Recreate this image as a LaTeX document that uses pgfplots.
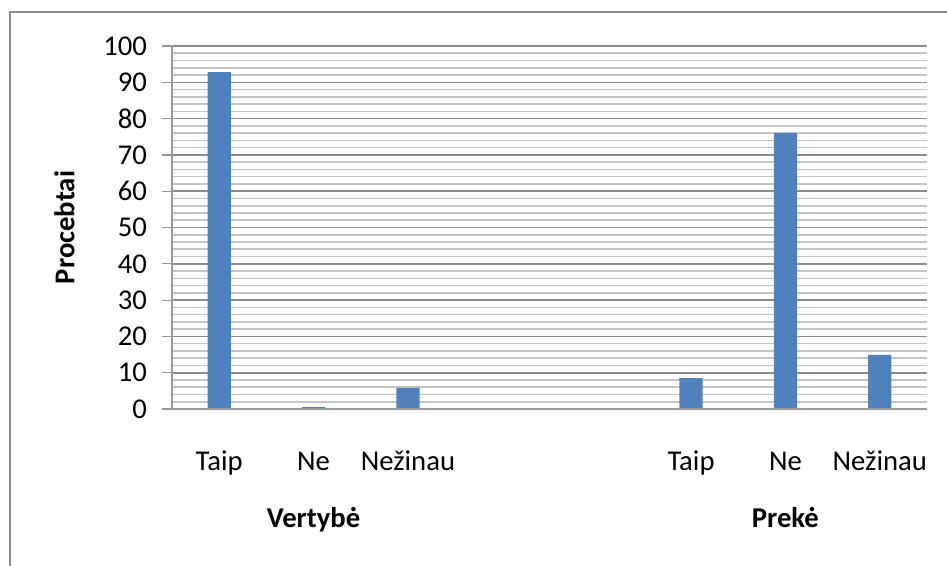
\documentclass[border=0pt]{standalone}
\usepackage{pgfplots}
\pgfplotsset{compat=1.18}
\usepackage{fontspec}
\setmainfont{Carlito}
\definecolor{barblue}{HTML}{4F81BD}
\definecolor{majgrid}{HTML}{8C8C8C}
\definecolor{mingrid}{HTML}{C4C4C4}
\begin{document}
\fontsize{21.5}{25}\selectfont
\begin{tikzpicture}[x=0.75pt,y=0.75pt]
\path[use as bounding box] (0,0) rectangle (947,565);
\draw[color=gray!90, line width=1.5pt] (10,-10) -- (10,553) -- (960,553);
\begin{axis}[
  at={(129pt,117pt)}, anchor=south west,
  scale only axis, width=566.25pt, height=272.25pt,
  xmin=-0.5, xmax=7.5, ymin=0, ymax=100,
  ytick={0,10,...,100}, minor y tick num=4,
  xtick={0,1,2,5,6,7},
  xticklabels={Taip,Ne,Nežinau,Taip,Ne,Nežinau},
  xticklabel style={yshift=-17pt, font=\fontsize{21.5}{25}\selectfont, anchor=north, text height=14pt, text depth=5pt},
  yticklabel style={font=\fontsize{21.5}{25}\selectfont, xshift=-4pt},
  /pgf/number format/assume math mode=true,
  axis x line*=bottom, axis y line*=left,
  axis line style={draw=gray!80, line width=0.9pt, -},
  x axis line style={draw=none},
  ymajorgrids, yminorgrids,
  major grid style={draw=majgrid, line width=1.2pt},
  minor grid style={draw=mingrid, line width=1.2pt},
  major tick length=7.5pt, minor tick length=0pt,
  y tick style={draw=gray!80, line width=0.9pt},
  x tick style={draw=none},
  tick align=outside,
  ylabel={\bfseries Procebtai},
  ylabel style={font=\fontsize{21.5}{25}\selectfont, yshift=7pt},
  clip=false,
]
\addplot[ybar, bar width=17.5pt, fill=barblue, draw=none] coordinates {
 (0,92.8) (1,0.5) (2,5.8) (5,8.5) (6,76) (7,14.9)
};
\draw[color=gray!80, line width=0.9pt] (axis cs:-0.5,0) -- (axis cs:7.5,0);
\draw[color=gray!80, line width=0.9pt] (axis cs:-0.5,0) -- ++(-7.5pt,0);
\node[font=\fontsize{21.5}{25}\selectfont\bfseries, anchor=base] at ([yshift=-89pt]axis cs:1,0) {Vertybė};
\node[font=\fontsize{21.5}{25}\selectfont\bfseries, anchor=base] at ([yshift=-89pt]axis cs:6,0) {Prekė};
\end{axis}
\end{tikzpicture}
\end{document}
